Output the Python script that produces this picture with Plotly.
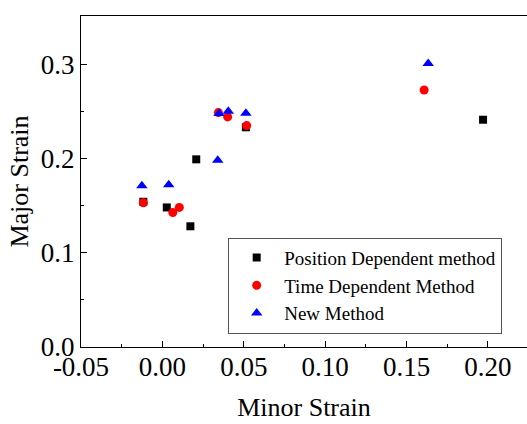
import plotly.graph_objects as go

# Data
pos_x = [-0.0117, 0.0027, 0.0172, 0.0208, 0.0513, 0.197]
pos_y = [0.154, 0.148, 0.128, 0.199, 0.233, 0.241]

time_x = [-0.0117, 0.0064, 0.0104, 0.0344, 0.0401, 0.0518, 0.1608]
time_y = [0.153, 0.1425, 0.148, 0.2486, 0.244, 0.2348, 0.2725]

new_x = [-0.0126, 0.0039, 0.034, 0.0348, 0.0405, 0.0513, 0.1633]
new_y = [0.171, 0.172, 0.198, 0.2475, 0.250, 0.248, 0.3005]

series_names = ["Position Dependent method", "Time Dependent Method", "New Method"]
x_ticks = [-0.05, 0.00, 0.05, 0.10, 0.15, 0.20]
x_tick_text = ["-0.05", "0.00", "0.05", "0.10", "0.15", "0.20"]
y_ticks = [0.0, 0.1, 0.2, 0.3]
y_tick_text = ["0.0", "0.1", "0.2", "0.3"]

FONT = "Liberation Serif"

fig = go.Figure()
fig.add_trace(go.Scatter(x=pos_x, y=pos_y, mode="markers", name=series_names[0],
                         marker=dict(symbol="square", size=8, color="black")))
fig.add_trace(go.Scatter(x=time_x, y=time_y, mode="markers", name=series_names[1],
                         marker=dict(symbol="circle", size=9, color="red")))
fig.add_trace(go.Scatter(x=new_x, y=new_y, mode="markers", name=series_names[2],
                         marker=dict(symbol="triangle-up", size=10, color="blue")))

fig.update_layout(
    width=527, height=424,
    margin=dict(l=81, r=0, t=16, b=77),
    paper_bgcolor="white", plot_bgcolor="white",
    font=dict(family=FONT, color="black"),
    showlegend=True,
    legend=dict(x=0.33, y=0.33, xanchor="left", yanchor="top",
                bordercolor="#555", borderwidth=1, bgcolor="white",
                font=dict(family=FONT, size=19, color="black"),
                itemwidth=45, tracegroupgap=0),
)
fig.update_xaxes(
    range=[-0.05, 0.224], showgrid=False, zeroline=False,
    showline=True, linecolor="black", linewidth=1, mirror=True,
    ticks="inside", ticklen=6, tickcolor="black",
    tickvals=x_ticks, ticktext=x_tick_text,
    tickfont=dict(family=FONT, size=27), ticklabelstandoff=-4,
    minor=dict(ticks="inside", ticklen=3, dtick=0.025, tick0=-0.05, tickcolor="black"),
    title=dict(text="Minor Strain", font=dict(family=FONT, size=26), standoff=16),
)
fig.update_yaxes(
    range=[0, 0.351], showgrid=False, zeroline=False,
    showline=True, linecolor="black", linewidth=1,
    ticks="inside", ticklen=6, tickcolor="black",
    tickvals=y_ticks, ticktext=y_tick_text,
    tickfont=dict(family=FONT, size=27),
    minor=dict(ticks="inside", ticklen=3, dtick=0.05, tick0=0, tickcolor="black"),
    title=dict(text="Major Strain", font=dict(family=FONT, size=26), standoff=4),
)

fig.write_html("out.html")
